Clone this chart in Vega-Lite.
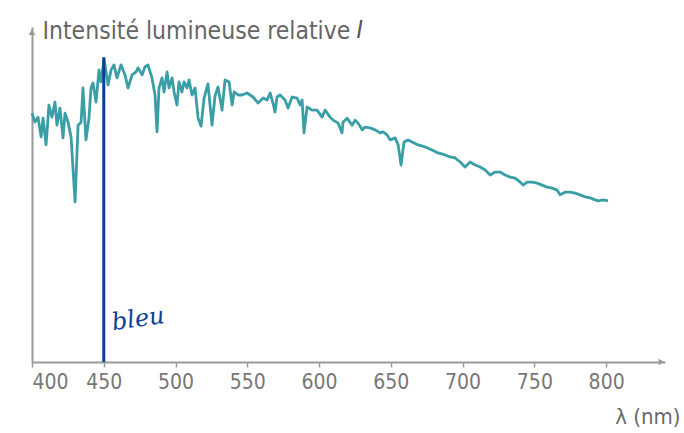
{
  "$schema": "https://vega.github.io/schema/vega-lite/v6.json",
  "width": 633,
  "height": 335,
  "autosize": "none",
  "padding": {"left": 32, "top": 27, "right": 19, "bottom": 71},
  "background": "white",
  "config": {"view": {"stroke": null}},
  "datasets": {
    "spectrum": [
      {"nm":400.0,"I":74.3},{"nm":402.1,"I":71.6},{"nm":404.2,"I":73.1},{"nm":406.3,"I":67.2},{"nm":407.7,"I":72.8},
      {"nm":409.8,"I":64.8},{"nm":411.8,"I":76.7},{"nm":413.9,"I":73.1},{"nm":416.0,"I":77.6},{"nm":417.4,"I":70.7},
      {"nm":419.5,"I":75.8},{"nm":421.6,"I":66.9},{"nm":423.0,"I":74.3},{"nm":425.1,"I":71.6},{"nm":427.2,"I":67.2},
      {"nm":430.0,"I":47.8},{"nm":432.1,"I":70.7},{"nm":434.2,"I":71.6},{"nm":435.5,"I":81.8},{"nm":437.6,"I":66.3},
      {"nm":439.7,"I":72.8},{"nm":441.1,"I":81.8},{"nm":442.5,"I":83.3},{"nm":444.6,"I":77.6},{"nm":446.7,"I":87.2},
      {"nm":448.1,"I":83.6},{"nm":450.2,"I":90.4},{"nm":453.0,"I":82.7},{"nm":455.1,"I":87.2},{"nm":457.1,"I":88.7},
      {"nm":459.2,"I":84.8},{"nm":462.0,"I":88.7},{"nm":464.8,"I":85.7},{"nm":466.9,"I":81.8},{"nm":469.7,"I":85.7},
      {"nm":472.5,"I":86.6},{"nm":473.9,"I":87.8},{"nm":476.7,"I":85.7},{"nm":478.7,"I":88.1},{"nm":480.8,"I":88.7},
      {"nm":483.6,"I":84.8},{"nm":485.7,"I":79.7},{"nm":487.1,"I":68.7},{"nm":488.5,"I":81.8},{"nm":490.6,"I":84.8},
      {"nm":492.0,"I":80.6},{"nm":494.1,"I":86.6},{"nm":495.5,"I":81.8},{"nm":497.6,"I":84.8},{"nm":499.0,"I":80.6},
      {"nm":501.0,"I":76.7},{"nm":502.4,"I":83.6},{"nm":504.5,"I":80.6},{"nm":505.9,"I":83.6},{"nm":508.0,"I":81.8},
      {"nm":509.4,"I":84.2},{"nm":511.5,"I":79.7},{"nm":513.6,"I":81.8},{"nm":515.7,"I":72.8},{"nm":517.8,"I":70.4},
      {"nm":519.9,"I":78.8},{"nm":522.6,"I":83.0},{"nm":525.4,"I":70.7},{"nm":527.5,"I":79.4},{"nm":529.6,"I":82.1},
      {"nm":532.4,"I":75.2},{"nm":534.5,"I":84.2},{"nm":537.3,"I":83.6},{"nm":539.4,"I":76.7},{"nm":540.8,"I":80.6},
      {"nm":543.6,"I":79.7},{"nm":546.3,"I":79.7},{"nm":549.8,"I":80.3},{"nm":554.0,"I":79.1},{"nm":557.5,"I":77.3},
      {"nm":561.0,"I":78.8},{"nm":563.8,"I":78.2},{"nm":565.9,"I":80.3},{"nm":567.9,"I":77.3},{"nm":569.3,"I":74.6},
      {"nm":570.7,"I":79.1},{"nm":572.8,"I":79.7},{"nm":576.3,"I":78.2},{"nm":578.4,"I":75.8},{"nm":581.2,"I":79.1},
      {"nm":584.7,"I":78.8},{"nm":586.8,"I":76.7},{"nm":588.2,"I":78.2},{"nm":589.5,"I":68.4},{"nm":591.6,"I":76.1},
      {"nm":595.1,"I":75.2},{"nm":598.6,"I":75.2},{"nm":602.1,"I":73.1},{"nm":604.2,"I":75.2},{"nm":607.7,"I":73.1},
      {"nm":609.8,"I":72.2},{"nm":613.3,"I":71.3},{"nm":616.0,"I":68.4},{"nm":616.7,"I":71.6},{"nm":619.5,"I":72.8},
      {"nm":623.0,"I":70.7},{"nm":625.1,"I":72.2},{"nm":627.2,"I":71.3},{"nm":630.0,"I":69.3},{"nm":632.1,"I":70.1},
      {"nm":635.5,"I":69.9},{"nm":639.0,"I":69.3},{"nm":642.5,"I":68.4},{"nm":644.6,"I":68.7},{"nm":647.4,"I":67.8},
      {"nm":649.5,"I":66.3},{"nm":653.0,"I":66.9},{"nm":655.1,"I":64.8},{"nm":657.1,"I":58.8},{"nm":659.2,"I":65.7},
      {"nm":662.0,"I":66.3},{"nm":664.8,"I":65.7},{"nm":669.0,"I":64.8},{"nm":673.9,"I":64.2},{"nm":678.7,"I":63.3},
      {"nm":682.9,"I":62.4},{"nm":687.8,"I":61.8},{"nm":691.3,"I":61.2},{"nm":694.8,"I":60.9},{"nm":698.3,"I":59.7},
      {"nm":701.7,"I":58.2},{"nm":705.2,"I":59.7},{"nm":708.7,"I":58.8},{"nm":712.2,"I":58.2},{"nm":715.7,"I":57.3},
      {"nm":719.2,"I":55.8},{"nm":722.6,"I":56.7},{"nm":726.1,"I":56.7},{"nm":729.6,"I":55.8},{"nm":733.1,"I":55.2},
      {"nm":736.6,"I":54.9},{"nm":740.1,"I":53.7},{"nm":742.2,"I":52.8},{"nm":744.9,"I":53.7},{"nm":748.4,"I":53.7},
      {"nm":751.9,"I":53.4},{"nm":755.4,"I":52.8},{"nm":758.9,"I":52.2},{"nm":762.4,"I":51.9},{"nm":765.9,"I":51.3},
      {"nm":767.9,"I":49.9},{"nm":771.4,"I":50.7},{"nm":774.9,"I":50.7},{"nm":778.4,"I":50.4},{"nm":781.9,"I":49.9},
      {"nm":785.4,"I":49.3},{"nm":788.9,"I":49.0},{"nm":792.3,"I":48.4},{"nm":794.4,"I":48.1},{"nm":797.9,"I":48.4},
      {"nm":801.3,"I":48.1}
    ]
  },
  "layer": [
    {
      "data": {"name": "spectrum"},
      "mark": {"type": "line", "color": "#3a9ea6", "strokeWidth": 2.8, "strokeJoin": "round", "interpolate": "linear"},
      "encoding": {
        "x": {
          "field": "nm", "type": "quantitative",
          "scale": {"domain": [400, 841], "nice": false, "zero": false},
          "axis": {
            "values": [400, 450, 500, 550, 600, 650, 700, 750, 800],
            "grid": false,
            "domainColor": "#9a9a9a", "domainWidth": 2,
            "tickColor": "#9a9a9a", "tickSize": 5, "tickWidth": 1.5,
            "labelFont": "DejaVu Sans Condensed", "labelFontSize": 21, "labelColor": "#777777",
            "labelPadding": 4,
            "title": "λ (nm)",
            "titleFont": "DejaVu Sans Condensed", "titleFontSize": 22, "titleFontWeight": "normal",
            "titleColor": "#6a6a6a", "titleAnchor": "end", "titleAlign": "right",
            "titleX": 648, "titleY": 61, "titleBaseline": "alphabetic"
          }
        },
        "y": {
          "field": "I", "type": "quantitative",
          "scale": {"domain": [0, 100], "nice": false, "zero": true},
          "axis": {
            "grid": false, "ticks": false, "labels": false,
            "domainColor": "#9a9a9a", "domainWidth": 2,
            "title": "Intensité lumineuse relative",
            "titleFont": "DejaVu Sans Condensed", "titleFontSize": 24.5, "titleFontWeight": "normal",
            "titleColor": "#666666", "titleAngle": 0, "titleAlign": "left",
            "titleX": 10, "titleY": 11, "titleBaseline": "alphabetic"
          }
        }
      }
    },
    {
      "data": {"values": [{"nm": 450, "lo": 0, "hi": 91}]},
      "mark": {"type": "rule", "color": "#0b3f96", "strokeWidth": 3},
      "encoding": {
        "x": {"field": "nm", "type": "quantitative"},
        "y": {"field": "lo", "type": "quantitative"},
        "y2": {"field": "hi"}
      }
    },
    {
      "data": {"values": [{"nm": 400, "I": 98.5}]},
      "mark": {"type": "point", "shape": "triangle-up", "filled": true, "color": "#9a9a9a", "size": 45, "opacity": 1},
      "encoding": {
        "x": {"field": "nm", "type": "quantitative"},
        "y": {"field": "I", "type": "quantitative"}
      }
    },
    {
      "data": {"values": [{"nm": 838.5, "I": 0}]},
      "mark": {"type": "point", "shape": "triangle-right", "filled": true, "color": "#9a9a9a", "size": 45, "opacity": 1},
      "encoding": {
        "x": {"field": "nm", "type": "quantitative"},
        "y": {"field": "I", "type": "quantitative"}
      }
    },
    {
      "data": {"values": [{"nm": 456.5, "I": 9.5, "t": "bleu"}]},
      "mark": {"type": "text", "align": "left", "baseline": "alphabetic", "font": "DejaVu Serif", "fontStyle": "italic", "fontSize": 24, "color": "#0b3f96", "angle": -8},
      "encoding": {
        "x": {"field": "nm", "type": "quantitative"},
        "y": {"field": "I", "type": "quantitative"},
        "text": {"field": "t"}
      }
    },
    {
      "data": {"values": [{"nm": 626, "I": 96.7, "t": "I"}]},
      "mark": {"type": "text", "align": "left", "baseline": "alphabetic", "font": "DejaVu Sans Condensed", "fontStyle": "italic", "fontSize": 24.5, "color": "#555555"},
      "encoding": {
        "x": {"field": "nm", "type": "quantitative"},
        "y": {"field": "I", "type": "quantitative"},
        "text": {"field": "t"}
      }
    }
  ]
}
